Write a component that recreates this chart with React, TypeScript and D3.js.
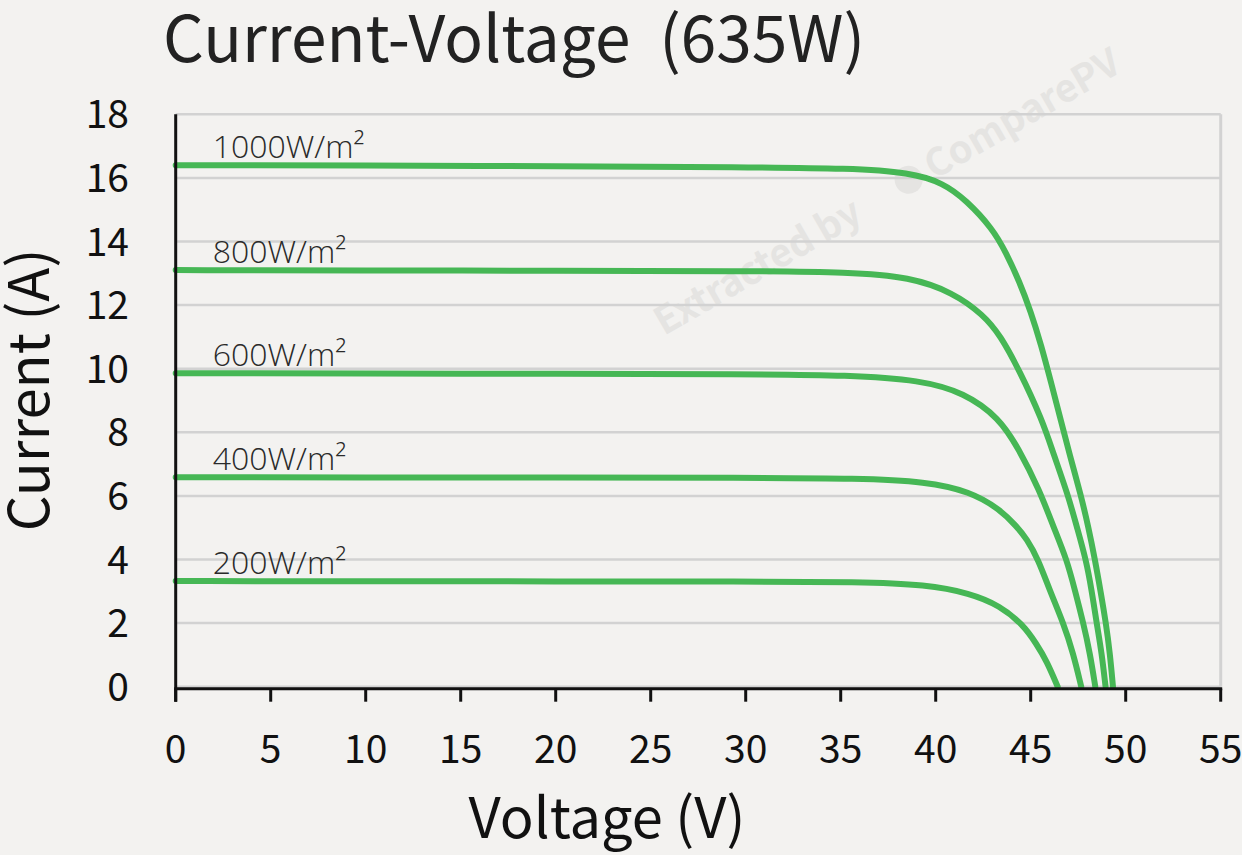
import React from "react";
import * as d3 from "d3";

const W = 1242;
const H = 855;

const xTicks = [0, 5, 10, 15, 20, 25, 30, 35, 40, 45, 50, 55];
const yTicks = [0, 2, 4, 6, 8, 10, 12, 14, 16, 18];

const irradianceLabels = ["1000W/m²", "800W/m²", "600W/m²", "400W/m²", "200W/m²"];

const curve1000: [number, number][] = [
  [0, 16.4], [10, 16.39], [20, 16.37], [30, 16.34], [35.5, 16.3], [38.65, 16.17],
  [40.4, 15.84], [41.6, 15.3], [43.0, 14.4], [43.7, 13.65], [44.4, 12.75], [45.0, 11.8],
  [45.55, 10.75], [46.1, 9.5], [46.6, 8.35], [47.05, 7.3], [47.65, 6.0], [48.03, 5.04],
  [48.38, 4.0], [48.67, 3.03], [48.96, 2.0], [49.17, 1.05], [49.33, 0],
];
const curve800: [number, number][] = [
  [0, 13.1], [10, 13.09], [20, 13.08], [30, 13.07], [35.5, 13.04], [38.65, 12.88],
  [40.9, 12.4], [42.5, 11.7], [43.4, 11.05], [44.4, 9.95], [45.6, 8.4], [46.19, 7.34],
  [46.98, 6.0], [47.42, 5.04], [47.91, 4.0], [48.21, 3.03], [48.47, 2.0], [48.74, 1.05],
  [48.94, 0],
];
const curve600: [number, number][] = [
  [0, 9.86], [10, 9.85], [20, 9.84], [30, 9.83], [35.5, 9.8], [39.2, 9.64],
  [41.5, 9.25], [43.35, 8.45], [44.35, 7.5], [45.45, 6.2], [46.19, 5.04], [46.9, 4.0],
  [47.33, 3.03], [47.77, 2.0], [48.12, 1.05], [48.4, 0],
];
const curve400: [number, number][] = [
  [0, 6.59], [10, 6.58], [20, 6.58], [30, 6.57], [36, 6.55], [39.5, 6.45],
  [41.8, 6.14], [43.38, 5.58], [44.26, 5.04], [44.79, 4.65], [45.4, 4.0], [46.0, 3.03],
  [46.72, 2.0], [47.24, 1.05], [47.66, 0],
];
const curve200: [number, number][] = [
  [0, 3.32], [10, 3.32], [20, 3.31], [30, 3.31], [36, 3.3], [39.5, 3.21],
  [41.8, 2.94], [43.38, 2.55], [44.6, 1.95], [45.3, 1.35], [45.85, 0.8], [46.42, 0],
];

const curves = [curve1000, curve800, curve600, curve400, curve200];

const FONT = "'Noto Sans CJK SC', 'Noto Sans', sans-serif";
const LIGHT = "'Open Sans', 'Noto Sans CJK SC', sans-serif";
const GREEN = "#46b755";

export default function App() {
  const x = d3.scaleLinear().domain([0, 55]).range([175.7, 1220.7]);
  const y = d3.scaleLinear().domain([0, 18]).range([686.7, 114.3]);
  const line = d3
    .line<[number, number]>()
    .x((d) => x(d[0]))
    .y((d) => y(d[1]))
    .curve(d3.curveBasis);

  const axisY = y(0) + 2;

  return (
    <svg
      width={W}
      height={H}
      style={{ position: "absolute", left: 0, top: 0, background: "#f3f2f0" }}
    >
      <rect x={0} y={0} width={W} height={H} fill="#f3f2f0" />

      {/* watermark */}
      <g transform="translate(664,336) rotate(-30)" fill="#e5e4e2" fontFamily={FONT} fontWeight={700} fontSize={38}>
        <text x={0} y={0}>Extracted by</text>
        <circle cx={290} cy={-13} r={14} />
        <text x={312} y={0}>ComparePV</text>
      </g>

      {/* grid */}
      {yTicks.map((t) => (
        <line key={"g" + t} x1={x(0)} x2={x(55)} y1={y(t)} y2={y(t)} stroke="#d2d2d2" strokeWidth={2.5} />
      ))}
      <line x1={x(55)} x2={x(55)} y1={y(18)} y2={y(0)} stroke="#d2d2d2" strokeWidth={3} />

      {/* curves */}
      {curves.map((c, i) => (
        <path key={"c" + i} d={line(c) || ""} fill="none" stroke={GREEN} strokeWidth={6} strokeLinecap="round" strokeLinejoin="round" />
      ))}

      {/* labels */}
      {curves.map((c, i) => (
        <text
          key={"l" + i}
          x={x(1.95)}
          y={y(c[0][1]) - 7}
          fontFamily={LIGHT}
          fontWeight={300}
          fontSize={32}
          fill="#2a2a2a"
        >
          {irradianceLabels[i]}
        </text>
      ))}

      {/* axes */}
      <line x1={x(0)} x2={x(0)} y1={y(18)} y2={axisY + 13} stroke="#111" strokeWidth={3} />
      <line x1={x(0) - 1.5} x2={x(55) + 1.5} y1={axisY} y2={axisY} stroke="#111" strokeWidth={3} />
      {xTicks.map((t) => (
        <line key={"t" + t} x1={x(t)} x2={x(t)} y1={axisY} y2={axisY + 13} stroke="#111" strokeWidth={3} />
      ))}

      {xTicks.map((t) => (
        <text key={"xl" + t} x={x(t)} y={763} textAnchor="middle" fontFamily={FONT} fontSize={39} fill="#111">
          {t}
        </text>
      ))}
      {yTicks.map((t) => (
        <text key={"yl" + t} x={129} y={y(t) + 14} textAnchor="end" fontFamily={FONT} fontSize={39} fill="#111">
          {t}
        </text>
      ))}

      {/* titles */}
      <text x={163} y={62} fontFamily={FONT} fontSize={64} fill="#222" xmlSpace="preserve">
        Current-Voltage  (635W)
      </text>
      <text x={607} y={838} textAnchor="middle" fontFamily={FONT} fontSize={56} fill="#111">
        Voltage (V)
      </text>
      <text transform="translate(49,390) rotate(-90)" textAnchor="middle" fontFamily={FONT} fontSize={56} fill="#111">
        Current (A)
      </text>
    </svg>
  );
}
